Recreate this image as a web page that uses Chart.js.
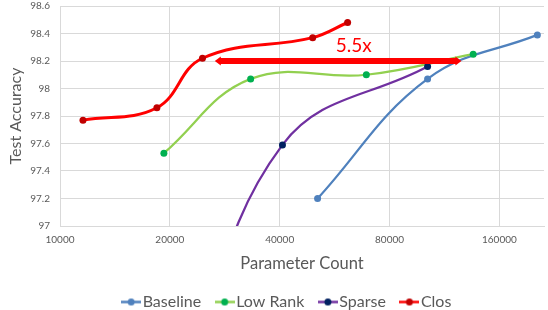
<!DOCTYPE html>
<html>
<head>
<meta charset="utf-8">
<script src="https://cdn.jsdelivr.net/npm/chart.js@4"></script>
<style>
  html, body { margin: 0; padding: 0; background: #fff; }
  #wrap { width: 548px; height: 310px; }
</style>
</head>
<body>
<div id="wrap"><canvas id="myChart"></canvas></div>
<script>
var seriesNames = ["Baseline", "Low Rank", "Sparse", "Clos"];
var lineColors = ["#4F81BD", "#92D050", "#7030A0", "#FF0000"];
var markerColors = ["#4F81BD", "#00B050", "#002060", "#C00000"];
var lineWidths = [2.25, 2.25, 2.25, 3];

var paramBaseline = [50800, 101700, 203300];
var accBaseline = [97.20, 98.07, 98.39];
var paramLowRank = [19260, 33300, 69100, 135600];
var accLowRank = [97.53, 98.07, 98.10, 98.25];
// first Sparse point lies below the axis and is clipped away
var paramSparse = [21300, 40700, 101700];
var accSparse = [95.75, 97.59, 98.16];
var paramClos = [11560, 18430, 24570, 49250, 61400];
var accClos = [97.77, 97.86, 98.22, 98.37, 98.48];

var xTicks = [10000, 20000, 40000, 80000, 160000];

// the 5.5x arrow (data space)
var arrowX = [26560, 125900];
var arrowY = 98.2;
var arrowLabel = "5.5x";
var arrowLabelAt = [63800, 98.31];

var params = [paramBaseline, paramLowRank, paramSparse, paramClos];
var accs = [accBaseline, accLowRank, accSparse, accClos];

var FONT = "Lato, 'Open Sans', sans-serif";
var GREY = "#595959";

function legendIcon(i) {
  var c = document.createElement("canvas");
  c.width = 20; c.height = 9;
  var g = c.getContext("2d");
  g.strokeStyle = lineColors[i];
  g.lineWidth = 2.5;
  g.beginPath(); g.moveTo(0, 4.5); g.lineTo(20, 4.5); g.stroke();
  g.fillStyle = markerColors[i];
  g.beginPath(); g.arc(10, 4.5, 3.5, 0, Math.PI * 2); g.fill();
  return c;
}
var icons = seriesNames.map(function (n, i) { return legendIcon(i); });

var datasets = seriesNames.map(function (name, i) {
  return {
    label: name,
    data: params[i].map(function (p, j) { return { x: p, y: accs[i][j] }; }),
    borderColor: lineColors[i],
    backgroundColor: markerColors[i],
    pointBackgroundColor: markerColors[i],
    pointBorderColor: markerColors[i],
    pointStyle: "circle",
    pointRadius: 3.5,
    pointBorderWidth: 0,
    borderWidth: lineWidths[i],
    tension: 0.4,
    showLine: true,
    order: seriesNames.length - i
  };
});

var arrowPlugin = {
  id: "arrow",
  beforeInit: function (chart) {
    var lg = chart.legend;
    if (!lg) return;
    var fit = lg.fit;
    lg.fit = function () { fit.call(this); this.height = 36; };
  },
  afterLayout: function (chart) {
    // Excel's legend sits a bit right of centre
    if (chart.legend) { chart.legend.left += 17; chart.legend.right += 17; }
  },
  afterDatasetsDraw: function (chart) {
    var ctx = chart.ctx, xs = chart.scales.x, ys = chart.scales.y;
    var x1 = xs.getPixelForValue(arrowX[0]);
    var x2 = xs.getPixelForValue(arrowX[1]);
    var y = ys.getPixelForValue(arrowY);
    ctx.save();
    ctx.strokeStyle = "#FF0000";
    ctx.fillStyle = "#FF0000";
    ctx.lineWidth = 6;
    ctx.beginPath(); ctx.moveTo(x1 + 5, y); ctx.lineTo(x2 - 5, y); ctx.stroke();
    ctx.beginPath(); ctx.moveTo(x1, y); ctx.lineTo(x1 + 6, y - 4.5); ctx.lineTo(x1 + 6, y + 4.5); ctx.closePath(); ctx.fill();
    ctx.beginPath(); ctx.moveTo(x2, y); ctx.lineTo(x2 - 6, y - 4.5); ctx.lineTo(x2 - 6, y + 4.5); ctx.closePath(); ctx.fill();
    ctx.font = "19px " + FONT;
    ctx.textAlign = "center";
    ctx.textBaseline = "middle";
    ctx.fillText(arrowLabel, xs.getPixelForValue(arrowLabelAt[0]), ys.getPixelForValue(arrowLabelAt[1]));
    ctx.restore();
  }
};

new Chart("myChart", {
  type: "scatter",
  data: { datasets: datasets },
  plugins: [arrowPlugin],
  options: {
    responsive: true,
    maintainAspectRatio: false,
    animation: false,
    layout: { padding: { left: 0, right: 3, top: 0, bottom: 0 } },
    plugins: {
      tooltip: { enabled: false },
      legend: {
        position: "bottom",
        labels: {
          usePointStyle: true,
          pointStyleWidth: 7,
          boxHeight: 9,
          padding: 20,
          color: GREY,
          font: { family: FONT, size: 16 },
          sort: function (a, b) { return a.datasetIndex - b.datasetIndex; },
          generateLabels: function (chart) {
            return Chart.defaults.plugins.legend.labels.generateLabels(chart).map(function (it) {
              it.pointStyle = icons[it.datasetIndex];
              return it;
            });
          }
        }
      }
    },
    scales: {
      x: {
        type: "logarithmic",
        min: 10000,
        max: 212000,
        afterBuildTicks: function (scale) {
          scale.ticks = xTicks.map(function (v) { return { value: v }; });
        },
        afterFit: function (scale) { scale.height = 48; },
        ticks: {
          color: GREY,
          font: { family: FONT, size: 10 },
          maxRotation: 0,
          padding: 8,
          callback: function (v) { return String(v); }
        },
        grid: { color: "#D9D9D9", lineWidth: 1, drawTicks: false },
        border: { color: "#D9D9D9" },
        title: {
          display: true,
          text: "Parameter Count",
          color: GREY,
          font: { family: FONT, size: 16.5 },
          padding: { top: 4, bottom: 0 }
        }
      },
      y: {
        min: 97,
        max: 98.6,
        afterFit: function (scale) { scale.width = 60; },
        ticks: {
          stepSize: 0.2,
          color: GREY,
          font: { family: FONT, size: 10 },
          padding: 0,
          callback: function (v) { return String(+v.toFixed(1)); }
        },
        grid: { color: "#D9D9D9", lineWidth: 1, drawTicks: true, tickLength: 10, tickColor: "rgba(0,0,0,0)" },
        border: { color: "#D9D9D9" },
        title: {
          display: true,
          text: "Test Accuracy",
          color: GREY,
          font: { family: FONT, size: 16 },
          padding: { top: 6, bottom: 4 }
        }
      }
    }
  }
});
</script>
</body>
</html>
